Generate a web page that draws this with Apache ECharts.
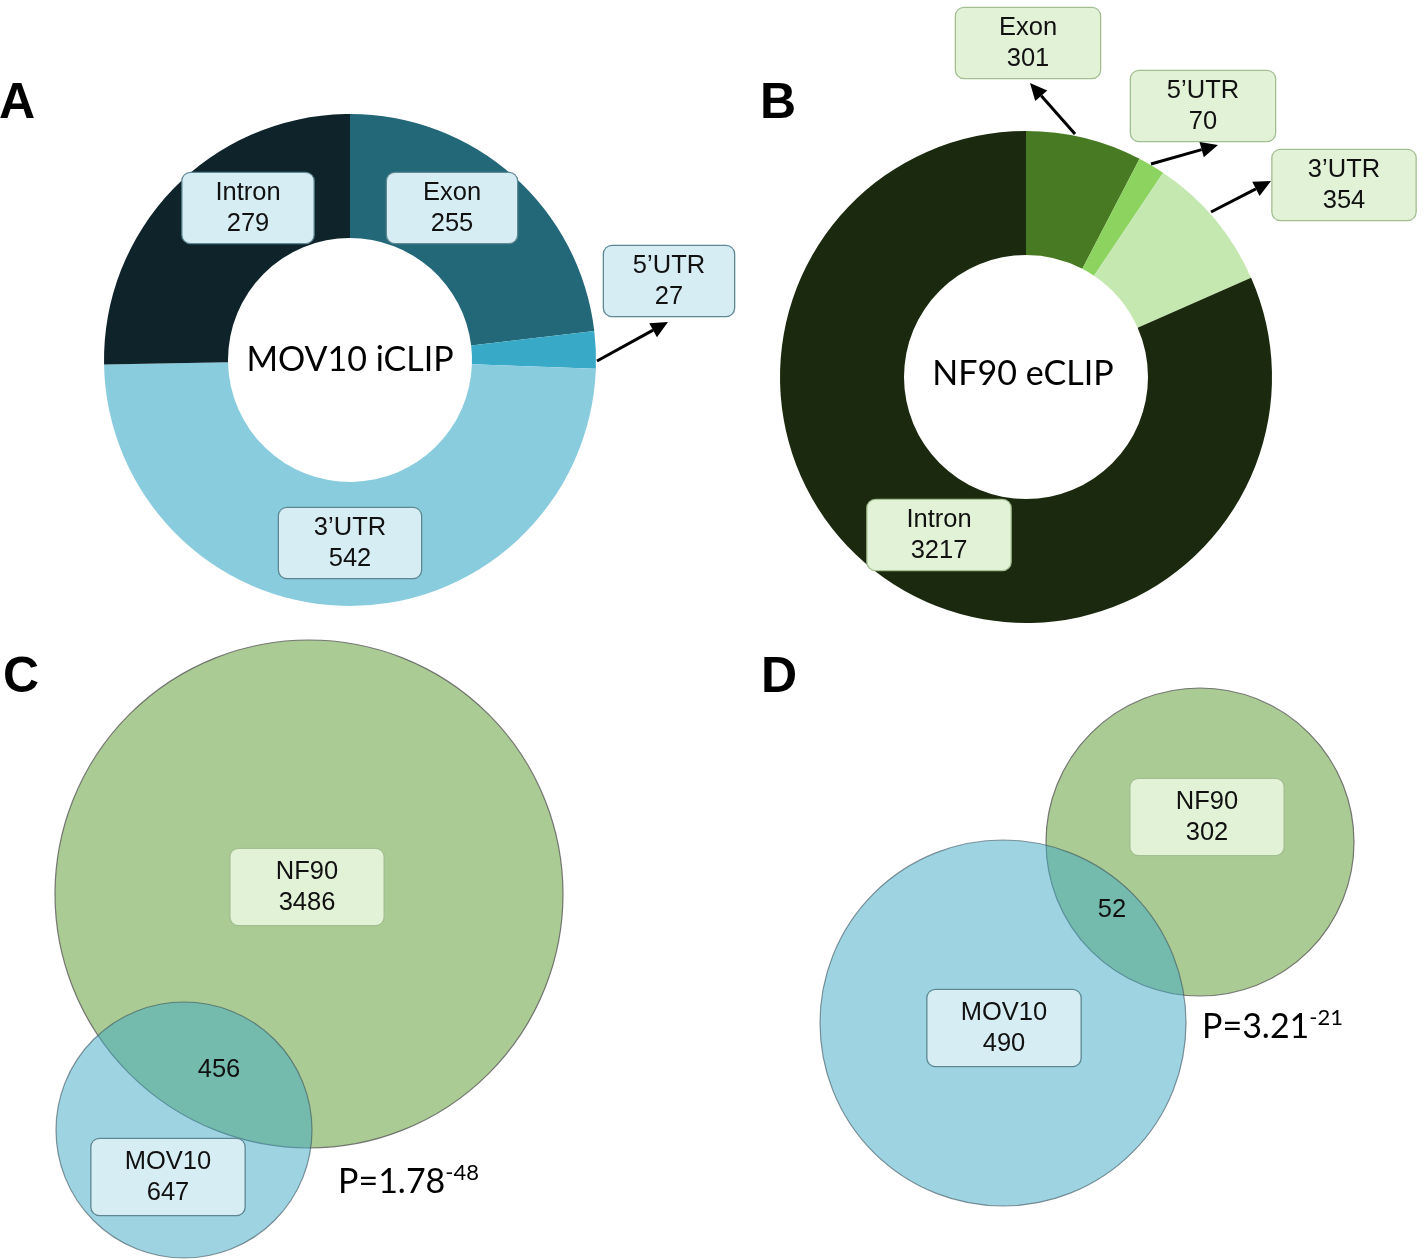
<!DOCTYPE html>
<html><head><meta charset="utf-8">
<script src="https://cdn.jsdelivr.net/npm/echarts@6/dist/echarts.min.js"></script>
<style>html,body{margin:0;padding:0;background:#fff}#c{width:1424px;height:1260px}</style>
</head><body><div id="c"></div><script>
// ---------------- DATA ----------------
const regionCategories = ['Exon', '5’UTR', '3’UTR', 'Intron'];
const mov10RegionCounts = [255, 27, 542, 279];
const nf90RegionCounts = [301, 70, 354, 3217];
const pieTitles = ['MOV10 iCLIP', 'NF90 eCLIP'];
const vennSetNames = ['NF90', 'MOV10'];
const vennCSetCounts = [3486, 647];
const vennCOverlap = 456;
const vennCPValue = ['1.78', '-48'];
const vennDSetCounts = [302, 490];
const vennDOverlap = 52;
const vennDPValue = ['3.21', '-21'];
const panelLetters = ['A', 'B', 'C', 'D'];

// ---------------- LAYOUT / STYLE ----------------
const FONT = 'Liberation Sans, Arial, sans-serif';
const TITLE_FONT = 'Lato, Open Sans, sans-serif';
const blueBox = { fill: '#D7EDF4', border: '#5D8793' };
const greenBox = { fill: '#E2F2D7', border: '#A3BE90' };

const pieLayouts = [
  { center: [350, 360], radius: [122, 246],
    colors: ['#236878', '#38A9C7', '#89CCDD', '#0E232A'], box: blueBox,
    labels: [[452, 208, 132], [669, 281, 132], [350, 543, 144], [248, 208, 133]],
    arrows: [[null], [597, 361, 668, 322], [null], [null]] },
  { center: [1026, 377], radius: [122, 246],
    colors: ['#477A22', '#8DD35F', '#C5E8B1', '#1B2A0E'], box: greenBox,
    labels: [[1028, 43, 146], [1203, 106, 146], [1344, 185, 145], [939, 535, 145]],
    arrows: [[1075, 134, 1030, 83], [1151, 164, 1218, 145], [1211, 212, 1271, 181], [null]] }
];

const vennLayouts = [
  { circles: [[309, 894, 254], [184, 1130, 128]],
    labels: [[307, 887], [168, 1177]], overlap: [219, 1070], p: [338, 1162] },
  { circles: [[1200, 842, 154], [1003, 1023, 183]],
    labels: [[1207, 817], [1004, 1028]], overlap: [1112, 910], p: [1202, 1007] }
];
const circleColors = ['#ABCB94', 'rgba(61,169,197,0.5)'];
const circleBorders = ['rgba(90,90,90,0.8)', 'rgba(60,80,90,0.6)'];
const vennBoxes = [greenBox, blueBox];

// ---------------- BUILD ----------------
function boxLabel(box, w, padV) {
  return {
    show: true, formatter: '{b}\n{c}', fontFamily: FONT, fontSize: 25.5, lineHeight: 31,
    color: '#111', backgroundColor: box.fill, borderColor: box.border, borderWidth: 1.3,
    borderRadius: 8, padding: [padV, 0], width: w, align: 'center', opacity: 1
  };
}

const pieCounts = [mov10RegionCounts, nf90RegionCounts];
const series = [];
pieLayouts.forEach((L, pi) => {
  series.push({
    type: 'pie', silent: true, center: L.center, radius: L.radius,
    startAngle: 90, clockwise: true, avoidLabelOverlap: false,
    itemStyle: { borderWidth: 0 },
    labelLine: { show: false },
    label: Object.assign(boxLabel(L.box, 132, 4), { position: 'outside' }),
    labelLayout: function (params) {
      const l = L.labels[params.dataIndex];
      return { x: l[0], y: l[1], align: 'center', verticalAlign: 'middle' };
    },
    data: regionCategories.map((name, i) => ({
      name, value: pieCounts[pi][i],
      itemStyle: { color: L.colors[i] },
      label: { width: L.labels[i][2] - 2 }
    }))
  });
});

const vennCounts = [vennCSetCounts, vennDSetCounts];
const vennOverlaps = [vennCOverlap, vennDOverlap];
// circles (two layers: NF90 below, MOV10 translucent above)
[0, 1].forEach(ci => {
  series.push({
    type: 'scatter', silent: true, xAxisIndex: 0, yAxisIndex: 0, z: 2 + ci,
    symbol: 'circle',
    itemStyle: { opacity: 1 },
    data: vennLayouts.map(V => ({
      name: vennSetNames[ci],
      value: [V.circles[ci][0], V.circles[ci][1]],
      symbolSize: V.circles[ci][2] * 2,
      itemStyle: { color: circleColors[ci], borderColor: circleBorders[ci], borderWidth: 1.2, opacity: 1 }
    }))
  });
});
// venn labels
const vennLabelData = [];
vennLayouts.forEach((V, vi) => {
  [0, 1].forEach(ci => {
    vennLabelData.push({
      name: vennSetNames[ci], value: [V.labels[ci][0], V.labels[ci][1], vennCounts[vi][ci]],
      label: boxLabel(vennBoxes[ci], 153, 7)
    });
  });
  vennLabelData.push({
    name: '', value: [V.overlap[0], V.overlap[1], vennOverlaps[vi]],
    label: { show: true, formatter: p => String(p.value[2]), fontFamily: FONT, fontSize: 25.5, color: '#111', opacity: 1 }
  });
});
series.push({
  type: 'scatter', silent: true, z: 10, symbolSize: 0,
  itemStyle: { opacity: 1 },
  label: { show: true, position: 'inside' },
  data: vennLabelData.map(d => {
    if (d.name) d.label.formatter = p => p.name + '\n' + p.value[2];
    d.label.position = 'inside';
    return d;
  })
});

// graphics: titles, letters, arrows, p-values
const graphic = [];
const titleCenters = [[350, 360], [1023, 374]];
pieTitles.forEach((t, i) => graphic.push({
  type: 'text', x: titleCenters[i][0], y: titleCenters[i][1], z: 20,
  style: { text: t, font: '34px ' + TITLE_FONT, fill: '#000', align: 'center', verticalAlign: 'middle' }
}));
const letterPos = [[-1, 79], [760, 79], [3, 653], [761, 653]];
panelLetters.forEach((t, i) => graphic.push({
  type: 'text', x: letterPos[i][0], y: letterPos[i][1], z: 20,
  style: { text: t, font: 'bold 50px ' + FONT, fill: '#000', align: 'left', verticalAlign: 'top' }
}));
function arrow(a) {
  const [x1, y1, x2, y2] = a;
  const dx = x2 - x1, dy = y2 - y1, len = Math.hypot(dx, dy), ux = dx / len, uy = dy / len;
  const hl = 17, hw = 8;
  const bx = x2 - ux * hl, by = y2 - uy * hl;
  return [
    { type: 'line', z: 20, shape: { x1, y1, x2: bx, y2: by }, style: { stroke: '#000', lineWidth: 3 } },
    { type: 'polygon', z: 20, shape: { points: [[x2, y2], [bx - uy * hw, by + ux * hw], [bx + uy * hw, by - ux * hw]] }, style: { fill: '#000' } }
  ];
}
pieLayouts.forEach(L => L.arrows.forEach(a => { if (a[0] !== null) graphic.push(...arrow(a)); }));
const pvals = [vennCPValue, vennDPValue];
vennLayouts.forEach((V, i) => graphic.push({
  type: 'text', x: V.p[0], y: V.p[1], z: 20,
  style: {
    text: '{p|P=' + pvals[i][0] + '}{s|' + pvals[i][1] + '}',
    align: 'left', verticalAlign: 'top',
    rich: {
      p: { fontFamily: TITLE_FONT, fontSize: 34, lineHeight: 37, fill: '#000', verticalAlign: 'bottom' },
      s: { fontFamily: TITLE_FONT, fontSize: 22, lineHeight: 22, fill: '#000', verticalAlign: 'top' }
    }
  }
}));

const chart = echarts.init(document.getElementById('c'), null, { renderer: 'canvas' });
chart.setOption({
  backgroundColor: '#fff',
  animation: false,
  grid: { left: 0, top: 0, right: 0, bottom: 0 },
  xAxis: { type: 'value', min: 0, max: 1424, show: false },
  yAxis: { type: 'value', min: 0, max: 1260, inverse: true, show: false },
  series,
  graphic
});
</script></body></html>
